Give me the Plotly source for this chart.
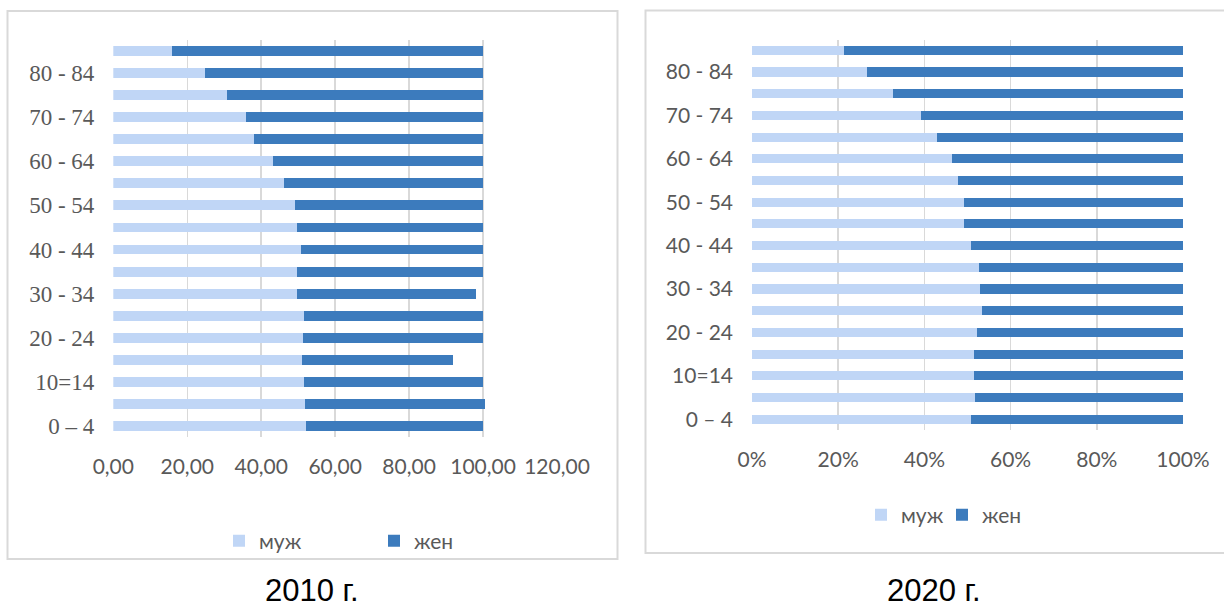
import plotly.graph_objects as go

# ---- data ----
age_groups = ["0 – 4", "5 - 9", "10=14", "15 - 19", "20 - 24", "25 - 29", "30 - 34",
              "35 - 39", "40 - 44", "45 - 49", "50 - 54", "55 - 59", "60 - 64",
              "65 - 69", "70 - 74", "75 - 79", "80 - 84", "85+"]
labeled_groups = age_groups[::2]

men_2010 = [52.0, 51.8, 51.5, 50.9, 51.2, 51.5, 49.8, 49.8, 50.7, 49.6, 49.1,
            46.1, 43.3, 38.1, 35.8, 30.8, 24.7, 15.9]
women_2010 = [48.0, 48.8, 48.5, 41.0, 48.8, 48.5, 48.2, 50.2, 49.3, 50.4, 50.9,
              53.9, 56.7, 61.9, 64.2, 69.2, 75.3, 84.1]

men_2020 = [50.7, 51.8, 51.6, 51.4, 52.3, 53.3, 52.8, 52.6, 50.7, 49.3, 49.3,
            47.9, 46.3, 43.0, 39.1, 32.8, 26.7, 21.4]
women_2020 = [49.3, 48.2, 48.4, 48.6, 47.7, 46.7, 47.2, 47.4, 49.3, 50.7, 50.7,
              52.1, 53.7, 57.0, 60.9, 67.2, 73.3, 78.6]

x_ticks_2010 = [0, 20, 40, 60, 80, 100, 120]
x_ticktext_2010 = ["0,00", "20,00", "40,00", "60,00", "80,00", "100,00", "120,00"]
x_ticks_2020 = [0, 20, 40, 60, 80, 100]
x_ticktext_2020 = ["0%", "20%", "40%", "60%", "80%", "100%"]

series_names = ["муж", "жен"]
captions = ["2010 г.", "2020 г."]

# ---- style ----
W, H = 1224, 612
C_MEN = "#C0D6F6"
C_WOMEN = "#3C7BBD"
GRID = "#D9D9D9"
TXT = "#595959"
SANS = "Lato"
SERIF = "Liberation Serif"

def px_x(p):
    return p / W

def px_y(p):
    return (H - p) / H

fig = go.Figure()

fig.add_trace(go.Bar(y=age_groups, x=men_2010, orientation="h", name=series_names[0],
                     marker=dict(color=C_MEN, line=dict(width=0)), width=0.45,
                     xaxis="x", yaxis="y", legend="legend"))
fig.add_trace(go.Bar(y=age_groups, x=women_2010, orientation="h", name=series_names[1],
                     marker=dict(color=C_WOMEN, line=dict(width=0)), width=0.45,
                     xaxis="x", yaxis="y", legend="legend"))
fig.add_trace(go.Bar(y=age_groups, x=men_2020, orientation="h", name=series_names[0],
                     marker=dict(color=C_MEN, line=dict(width=0)), width=0.42,
                     xaxis="x2", yaxis="y2", legend="legend2"))
fig.add_trace(go.Bar(y=age_groups, x=women_2020, orientation="h", name=series_names[1],
                     marker=dict(color=C_WOMEN, line=dict(width=0)), width=0.42,
                     xaxis="x2", yaxis="y2", legend="legend2"))

xcommon = dict(showgrid=True, gridcolor=GRID, gridwidth=1.5, zeroline=False,
               showline=False, ticks="", fixedrange=True, ticklabelstandoff=15,
               automargin=False,
               tickfont=dict(family=SANS, size=21, color=TXT))
ycommon = dict(type="category", categoryorder="array", categoryarray=age_groups,
               range=[-0.5, 17.5], tickmode="array", tickvals=labeled_groups,
               showgrid=False, zeroline=False, showline=False, ticks="",
               ticklabelstandoff=18, fixedrange=True, automargin=False)

fig.update_layout(
    template="none",
    width=W, height=H,
    autosize=False,
    margin=dict(l=0, r=0, t=0, b=0, pad=0, autoexpand=False),
    paper_bgcolor="white", plot_bgcolor="white",
    barmode="stack",
    hovermode=False,
    showlegend=True,
    xaxis=dict(domain=[px_x(113.3), px_x(557)], range=[0, 120], anchor="y",
               tickmode="array", tickvals=x_ticks_2010, ticktext=x_ticktext_2010,
               **xcommon),
    yaxis=dict(domain=[px_y(437), px_y(40)], anchor="x",
               tickfont=dict(family=SERIF, size=23, color=TXT), **ycommon),
    xaxis2=dict(domain=[px_x(752), px_x(1183)], range=[0, 100], anchor="y2",
                tickmode="array", tickvals=x_ticks_2020, ticktext=x_ticktext_2020,
                **xcommon),
    yaxis2=dict(domain=[px_y(430), px_y(39.5)], anchor="x2",
                tickfont=dict(family=SANS, size=21, color=TXT), **ycommon),
    legend=dict(orientation="h", x=px_x(219), xanchor="left", y=px_y(541),
                yanchor="middle", bgcolor="rgba(0,0,0,0)", entrywidth=110,
                borderwidth=0,
                font=dict(family=SANS, size=21, color=TXT), traceorder="normal"),
    legend2=dict(orientation="h", x=px_x(861), xanchor="left", y=px_y(515),
                 yanchor="middle", bgcolor="rgba(0,0,0,0)", borderwidth=0,
                 entrywidth=36,
                 font=dict(family=SANS, size=21, color=TXT), traceorder="normal"),
    shapes=[
        dict(type="rect", xref="paper", yref="paper",
             x0=px_x(7.5), x1=px_x(617.5), y0=px_y(559), y1=px_y(11),
             line=dict(color=GRID, width=2), fillcolor="rgba(0,0,0,0)", layer="below"),
        dict(type="rect", xref="paper", yref="paper",
             x0=px_x(645.5), x1=px_x(1230), y0=px_y(553), y1=px_y(10.5),
             line=dict(color=GRID, width=2), fillcolor="rgba(0,0,0,0)", layer="below"),
    ],
    annotations=[
        dict(text=captions[0], xref="paper", yref="paper", x=px_x(312), y=px_y(590),
             xanchor="center", yanchor="middle", showarrow=False,
             font=dict(family="Liberation Sans", size=31, color="black")),
        dict(text=captions[1], xref="paper", yref="paper", x=px_x(934), y=px_y(590),
             xanchor="center", yanchor="middle", showarrow=False,
             font=dict(family="Liberation Sans", size=31, color="black")),
    ],
)

fig.write_html("out.html", config={"displayModeBar": False, "staticPlot": True},
               post_script="document.body.style.margin='0px';")
